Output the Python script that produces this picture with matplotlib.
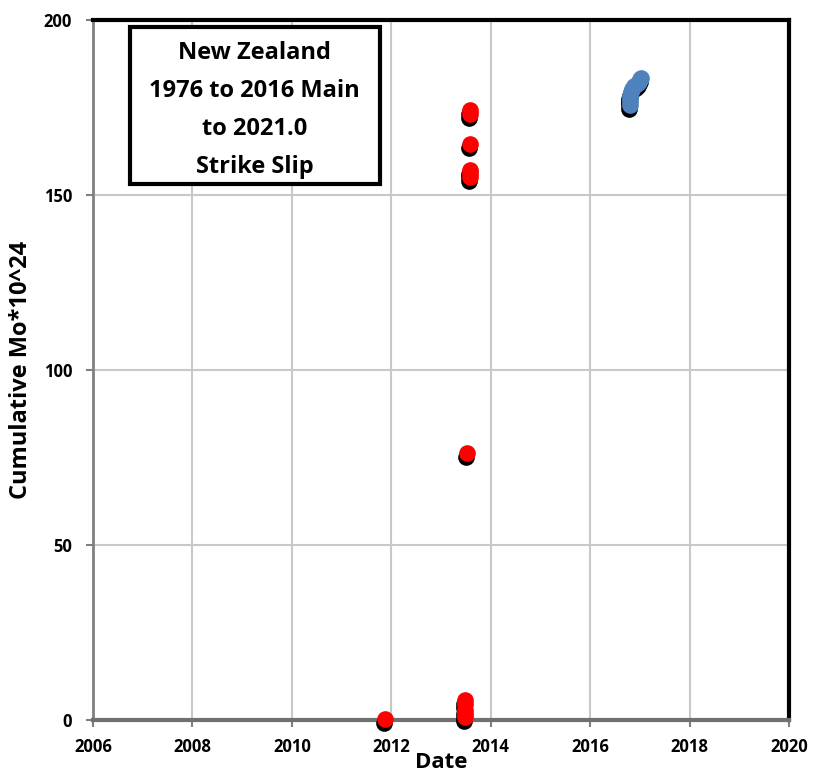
import matplotlib
matplotlib.use("Agg")
import matplotlib.pyplot as plt
import matplotlib.transforms as mtransforms
from matplotlib.patches import Rectangle

plt.rcParams['font.family'] = ['Open Sans', 'DejaVu Sans']

# Main shock sequence (red) and later events (blue)
red_dates = [2011.88, 2013.48, 2013.48, 2013.48, 2013.49, 2013.49,
             2013.52, 2013.58, 2013.58, 2013.58, 2013.59, 2013.59, 2013.59]
red_mo = [0.2, 0.8, 1.8, 2.8, 4.6, 5.8,
          76.3, 155.2, 156.2, 157.2, 164.7, 173.1, 174.3]

blue_dates = [2016.80, 2016.80, 2016.81, 2016.81, 2016.82, 2016.85,
              2016.89, 2016.94, 2016.98, 2017.01, 2017.03]
blue_mo = [175.8, 176.8, 177.8, 178.7, 179.5, 180.3,
           181.0, 181.7, 182.4, 183.0, 183.4]

x_ticks = [2006, 2008, 2010, 2012, 2014, 2016, 2018, 2020]
y_ticks = [0, 50, 100, 150, 200]

fig = plt.figure(figsize=(8.13, 7.81), dpi=100)
ax = fig.add_axes([0.1144, 0.0781, 0.8561, 0.8963])

# drop shadow under each marker
shadow = ax.transData + mtransforms.ScaledTranslation(-0.01, -0.04, fig.dpi_scale_trans)
for xs, ys in [(red_dates, red_mo), (blue_dates, blue_mo)]:
    ax.plot(xs, ys, 'o', color='black', markersize=12, markeredgewidth=0,
            transform=shadow, zorder=3, clip_on=False)
for xs, ys, col in [(red_dates, red_mo, '#ff0000'), (blue_dates, blue_mo, '#4f81bd')]:
    ax.plot(xs, ys, 'o', color=col, markersize=12, markeredgewidth=0,
            zorder=4, clip_on=False)

ax.set_xlim(2006, 2020)
ax.set_ylim(0, 200)
ax.set_xticks(x_ticks)
ax.set_yticks(y_ticks)
ax.grid(True, color='#c8c8c8', linewidth=1.5)
ax.set_axisbelow(True)

for lbl in ax.get_xticklabels() + ax.get_yticklabels():
    lbl.set_fontweight('bold')
ax.tick_params(labelsize=12, direction='out', length=5, width=1.5, color='#808080')
ax.tick_params(axis='x', pad=8)
ax.tick_params(axis='y', pad=10)

ax.spines['left'].set_color('#808080')
ax.spines['left'].set_linewidth(2)
ax.spines['bottom'].set_color('#707070')
ax.spines['bottom'].set_linewidth(3)
ax.spines['top'].set_color('black')
ax.spines['top'].set_linewidth(3)
ax.spines['right'].set_color('black')
ax.spines['right'].set_linewidth(3)

ax.set_xlabel('Date', fontsize=16, fontweight='bold', labelpad=-3)
ax.set_ylabel('Cumulative Mo*10^24', fontsize=17, fontweight='bold', labelpad=8)

# title box
ax.add_patch(Rectangle((0.053, 0.766), 0.359, 0.224, transform=ax.transAxes,
                       facecolor='white', edgecolor='black', linewidth=3, zorder=5))
lines = ['New Zealand', '1976 to 2016 Main', 'to 2021.0', 'Strike Slip']
for i, line in enumerate(lines):
    ax.text(0.2325, 0.953 - i * 0.0545, line, transform=ax.transAxes,
            ha='center', va='center', fontsize=17, fontweight='bold', zorder=6)

fig.savefig('out.png', dpi=100)
